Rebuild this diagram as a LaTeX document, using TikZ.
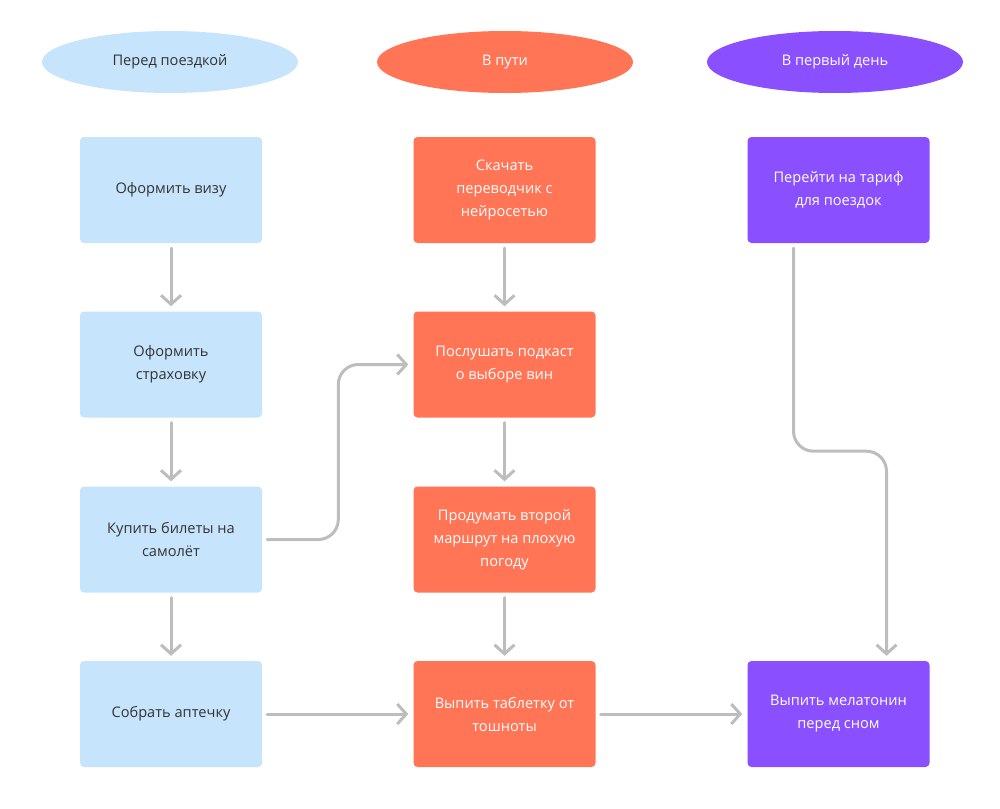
\documentclass[tikz,border=0pt]{standalone}
\usepackage{fontspec}
\setmainfont{Open Sans}
\usetikzlibrary{arrows.meta,shapes.geometric}
\definecolor{goluboy}{HTML}{C6E5FC}
\definecolor{korall}{HTML}{FF7555}
\definecolor{fiolet}{HTML}{8A4FFF}
\definecolor{seryy}{HTML}{BDBDBD}
\definecolor{tekst}{HTML}{333333}
\begin{document}
\begin{tikzpicture}[x=1pt,y=-1pt,font=\fontsize{14.6}{23}\selectfont,line join=round,line cap=round,
		etap/.style={ellipse,minimum width=256pt,minimum height=62pt,inner sep=0pt},
		shag/.style={rounded corners=4pt,minimum width=182pt,minimum height=106pt,align=center,inner sep=0pt},
		strelka/.style={draw=seryy,line width=3pt,shorten <=5pt,shorten >=5pt,-{Straight Barb[length=9pt,width=20pt]}}]
	\useasboundingbox (0,0) rectangle (1000,808);
	% zagolovki
	\node[etap,fill=goluboy,text=tekst] (e1) at (170,62) {Перед поездкой};
	\node[etap,fill=korall,text=white] (e2) at (505,62) {В пути};
	\node[etap,fill=fiolet,text=white] (e3) at (835,62) {В первый день};
	% pered poezdkoy
	\node[shag,fill=goluboy,text=tekst] (viza) at (171,190) {Оформить визу};
	\node[shag,fill=goluboy,text=tekst] (strah) at (171,364.5) {Оформить\\страховку};
	\node[shag,fill=goluboy,text=tekst] (bilet) at (171,539.5) {Купить билеты на\\самолёт};
	\node[shag,fill=goluboy,text=tekst] (aptek) at (171,714) {Собрать аптечку};
	% v puti
	\node[shag,fill=korall,text=white] (perev) at (504.5,190) {Скачать\\переводчик с\\нейросетью};
	\node[shag,fill=korall,text=white] (podk) at (504.5,364.5) {Послушать подкаст\\о выборе вин};
	\node[shag,fill=korall,text=white] (marsh) at (504.5,539.5) {Продумать второй\\маршрут на плохую\\погоду};
	\node[shag,fill=korall,text=white] (tabl) at (504.5,714) {Выпить таблетку от\\тошноты};
	% v perviy den
	\node[shag,fill=fiolet,text=white] (tarif) at (838.5,190) {Перейти на тариф\\для поездок};
	\node[shag,fill=fiolet,text=white] (melat) at (838.5,714) {Выпить мелатонин\\перед сном};
	% strelki
	\draw[strelka] (viza) -- (strah);
	\draw[strelka] (strah) -- (bilet);
	\draw[strelka] (bilet) -- (aptek);
	\draw[strelka] (perev) -- (podk);
	\draw[strelka] (podk) -- (marsh);
	\draw[strelka] (marsh) -- (tabl);
	\draw[strelka] (aptek) -- (tabl);
	\draw[strelka] (tabl) -- (melat);
	\draw[strelka,rounded corners=20pt] (bilet.east) -| ([xshift=-75pt]podk.west) -- (podk.west);
	\draw[strelka,rounded corners=20pt] ([xshift=-45pt]tarif.south) -- ++(0,208) -| ([xshift=48pt]melat.north);
\end{tikzpicture}
\end{document}
